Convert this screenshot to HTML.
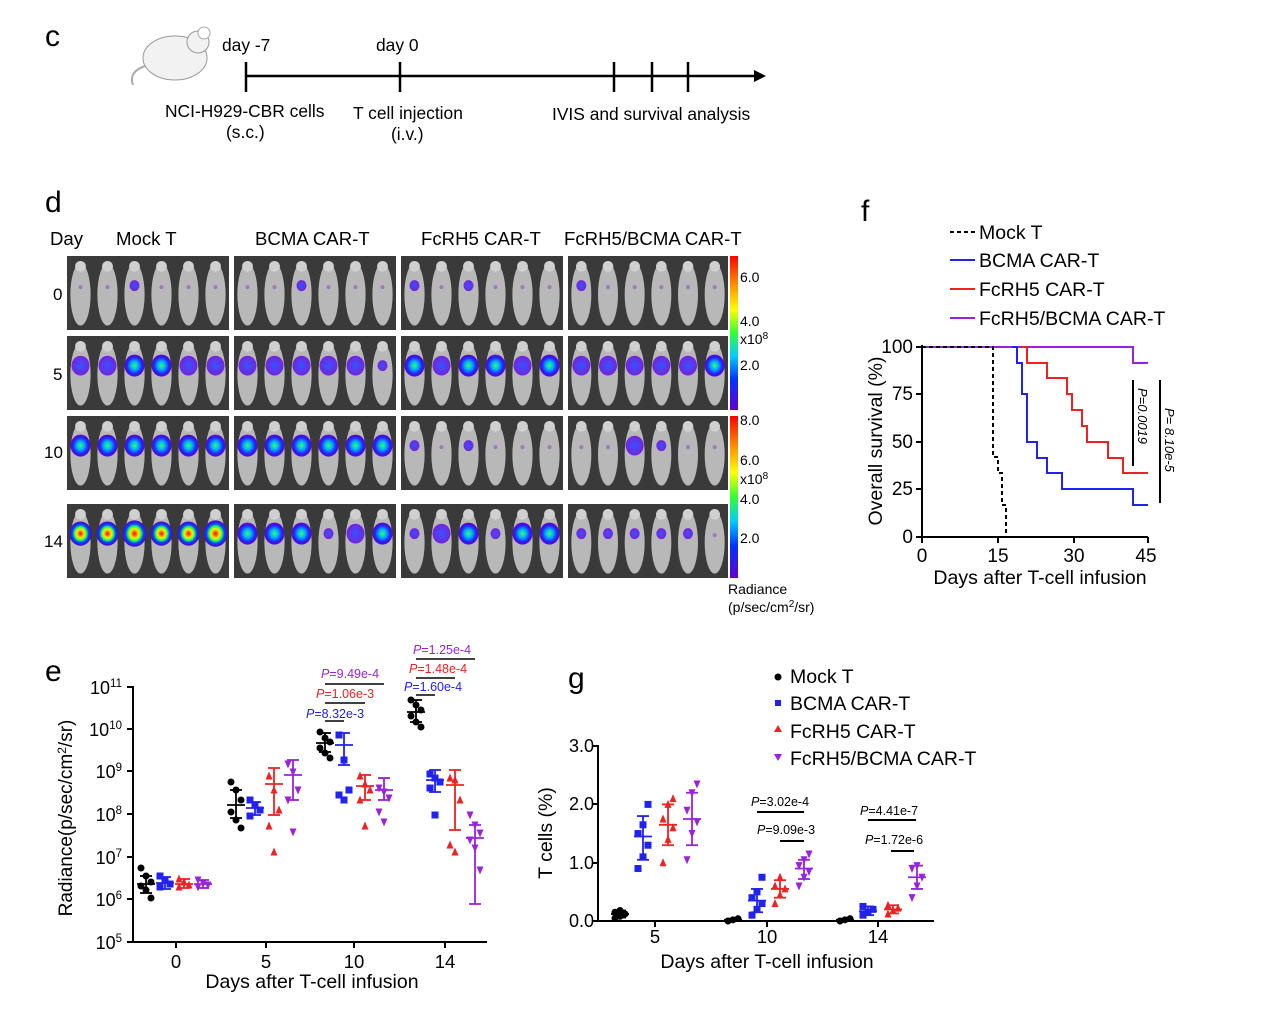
<!DOCTYPE html>
<html><head><meta charset="utf-8"><style>
html,body{margin:0;padding:0;background:#fff}
svg{display:block;font-family:"Liberation Sans",Arial,sans-serif}
</style></head><body>
<svg id="s" width="1268" height="1017" viewBox="0 0 1268 1017" xmlns="http://www.w3.org/2000/svg">
<defs>
<linearGradient id="cb" x1="0" y1="0" x2="0" y2="1">
<stop offset="0" stop-color="#ff0000"/><stop offset="0.2" stop-color="#ff9900"/><stop offset="0.35" stop-color="#ffff00"/><stop offset="0.5" stop-color="#33ff33"/><stop offset="0.65" stop-color="#00ccff"/><stop offset="0.8" stop-color="#0033ff"/><stop offset="1" stop-color="#6600cc"/></linearGradient>
<radialGradient id="hot"><stop offset="0" stop-color="#ff0000"/><stop offset="0.35" stop-color="#ffee00"/><stop offset="0.55" stop-color="#22ff55"/><stop offset="0.75" stop-color="#0044ff"/><stop offset="1" stop-color="#5500cc"/></radialGradient>
<radialGradient id="mid"><stop offset="0" stop-color="#33ff66"/><stop offset="0.4" stop-color="#00aaff"/><stop offset="0.75" stop-color="#2222ff"/><stop offset="1" stop-color="#6600cc"/></radialGradient>
<radialGradient id="low"><stop offset="0" stop-color="#3355ff"/><stop offset="1" stop-color="#7722dd"/></radialGradient>
</defs>
<g font-size="16" fill="#000">
<!-- c -->
<text x="45" y="46" font-size="30">c</text>
<ellipse cx="175" cy="58" rx="32" ry="22" fill="#f2f2f2" stroke="#999"/>
<circle cx="198" cy="42" r="11" fill="#f2f2f2" stroke="#999"/>
<circle cx="204" cy="33" r="6" fill="#fff" stroke="#aaa"/>
<path d="M145 66 Q128 72 133 85" fill="none" stroke="#aaa" stroke-width="2"/>
<line x1="245" y1="76" x2="758" y2="76" stroke="#000" stroke-width="2.5"/>
<polygon points="766,76 754,70 754,82" fill="#000"/>
<g stroke="#000" stroke-width="2.5"><line x1="246" y1="62" x2="246" y2="92"/><line x1="400" y1="62" x2="400" y2="92"/><line x1="614" y1="62" x2="614" y2="92"/><line x1="652" y1="62" x2="652" y2="92"/><line x1="688" y1="62" x2="688" y2="92"/></g>
<g font-size="17.4"><text x="222" y="51">day -7</text><text x="376" y="51">day 0</text>
<text x="165" y="117">NCI-H929-CBR cells</text><text x="226" y="138">(s.c.)</text>
<text x="353" y="119">T cell injection</text><text x="391" y="140">(i.v.)</text>
<text x="552" y="120">IVIS and survival analysis</text></g>
<!-- d -->
<text x="45" y="212" font-size="30">d</text>
<g font-size="18.6"><text x="50" y="245">Day</text><text x="116" y="245">Mock T</text>
<text x="255" y="245">BCMA CAR-T</text><text x="421" y="245">FcRH5 CAR-T</text>
<text x="564" y="245">FcRH5/BCMA CAR-T</text></g>
<text x="53" y="300" font-size="17">0</text><text x="53" y="380" font-size="17">5</text>
<text x="44" y="458" font-size="17">10</text><text x="44" y="547" font-size="17">14</text>
<g id="img"></g>
<rect x="730" y="256" width="8" height="154" fill="url(#cb)"/>
<rect x="730" y="416" width="8" height="162" fill="url(#cb)"/>
<g font-size="14"><text x="740" y="282">6.0</text><text x="740" y="326">4.0</text><text x="740" y="344">x10<tspan font-size="10" dy="-5">8</tspan></text><text x="740" y="370">2.0</text>
<text x="740" y="425">8.0</text><text x="740" y="465">6.0</text><text x="740" y="484">x10<tspan font-size="10" dy="-5">8</tspan></text><text x="740" y="504">4.0</text><text x="740" y="543">2.0</text>
<text x="728" y="594">Radiance</text><text x="728" y="612">(p/sec/cm<tspan font-size="10" dy="-5">2</tspan><tspan dy="5">/sr)</tspan></text></g>
<!-- f -->
<text x="861" y="221" font-size="30">f</text>
<g stroke-width="2"><line x1="950" y1="232" x2="975" y2="232" stroke="#000" stroke-dasharray="4,3"/><line x1="950" y1="260" x2="975" y2="260" stroke="#2222ee"/><line x1="950" y1="289" x2="975" y2="289" stroke="#ee2222"/><line x1="950" y1="318" x2="975" y2="318" stroke="#9922dd"/></g>
<g font-size="19.5"><text x="979" y="239">Mock T</text><text x="979" y="267">BCMA CAR-T</text><text x="979" y="296">FcRH5 CAR-T</text><text x="979" y="325">FcRH5/BCMA CAR-T</text></g>
<g stroke="#000" stroke-width="2"><line x1="922" y1="345" x2="922" y2="538"/><line x1="921" y1="537" x2="1148" y2="537"/>
<line x1="916" y1="347" x2="922" y2="347"/><line x1="916" y1="394" x2="922" y2="394"/><line x1="916" y1="442" x2="922" y2="442"/><line x1="916" y1="489" x2="922" y2="489"/><line x1="916" y1="537" x2="922" y2="537"/>
<line x1="922" y1="537" x2="922" y2="543"/><line x1="998" y1="537" x2="998" y2="543"/><line x1="1074" y1="537" x2="1074" y2="543"/><line x1="1148" y1="537" x2="1148" y2="543"/></g>
<g font-size="19" text-anchor="end"><text x="913" y="353">100</text><text x="913" y="400">75</text><text x="913" y="448">50</text><text x="913" y="495">25</text><text x="913" y="543">0</text></g>
<g font-size="19" text-anchor="middle"><text x="922" y="562">0</text><text x="998" y="562">15</text><text x="1074" y="562">30</text><text x="1146" y="562">45</text>
<text x="1040" y="584" font-size="19.5">Days after T-cell infusion</text>
<text transform="translate(882,441) rotate(-90)" font-size="19.5">Overall  survival (%)</text></g>
<g fill="none" stroke-width="2">
<polyline stroke="#9922dd" points="922,347 1133,347 1133,363 1148,363"/>
<polyline stroke="#ee2222" points="1022,347 1027,347 1027,363 1047,363 1047,378 1067,378 1067,394 1072,394 1072,410 1082,410 1082,426 1087,426 1087,442 1108,442 1108,458 1123,458 1123,473 1148,473"/>
<polyline stroke="#2222ee" points="1012,347 1017,347 1017,363 1022,363 1022,394 1027,394 1027,442 1037,442 1037,458 1047,458 1047,473 1062,473 1062,489 1133,489 1133,505 1148,505"/>
<polyline stroke="#000" stroke-dasharray="4,3" points="922,347 993,347 993,457 998,457 998,473 1002,473 1002,505 1006,505 1006,537"/>
<line x1="1133" y1="380" x2="1133" y2="466" stroke="#000"/><line x1="1160" y1="380" x2="1160" y2="503" stroke="#000"/></g>
<g font-size="13" font-style="italic"><text transform="translate(1138,388) rotate(90)">P=0.0019</text><text transform="translate(1165,408) rotate(90)">P= 8.10e-5</text></g>
<!-- e -->
<text x="45" y="681" font-size="30">e</text>
<g stroke="#000" stroke-width="2"><line x1="133" y1="686" x2="133" y2="943"/><line x1="132" y1="942" x2="487" y2="942"/></g>
<g id="eax"></g>
<g font-size="18.5" text-anchor="middle"><text x="176" y="968">0</text><text x="266" y="968">5</text><text x="354" y="968">10</text><text x="445" y="968">14</text>
<text x="312" y="988" font-size="19.5">Days after T-cell infusion</text>
<text transform="translate(72,818) rotate(-90)" font-size="19">Radiance(p/sec/cm<tspan font-size="12" dy="-6">2</tspan><tspan dy="6">/sr)</tspan></text></g>
<g id="epts"></g>
<g font-size="12.5" font-style="normal">
<text x="321" y="678" fill="#9922dd"><tspan font-style="italic">P</tspan>=9.49e-4</text>
<text x="316" y="698" fill="#ee2222"><tspan font-style="italic">P</tspan>=1.06e-3</text>
<text x="306" y="718" fill="#2222ee"><tspan font-style="italic">P</tspan>=8.32e-3</text>
<text x="413" y="654" fill="#9922dd"><tspan font-style="italic">P</tspan>=1.25e-4</text>
<text x="409" y="673" fill="#ee2222"><tspan font-style="italic">P</tspan>=1.48e-4</text>
<text x="404" y="691" fill="#2222ee"><tspan font-style="italic">P</tspan>=1.60e-4</text></g>
<g stroke="#000" stroke-width="1.5"><line x1="325" y1="684" x2="384" y2="684"/><line x1="325" y1="703" x2="365" y2="703"/><line x1="325" y1="721" x2="344" y2="721"/>
<line x1="416" y1="659" x2="475" y2="659"/><line x1="416" y1="678" x2="455" y2="678"/><line x1="416" y1="695" x2="435" y2="695"/></g>
<!-- g -->
<text x="568" y="688" font-size="30">g</text>
<g stroke="#000" stroke-width="2"><line x1="598" y1="745" x2="598" y2="922"/><line x1="597" y1="921" x2="934" y2="921"/>
<line x1="592" y1="746" x2="598" y2="746"/><line x1="592" y1="804" x2="598" y2="804"/><line x1="592" y1="863" x2="598" y2="863"/><line x1="592" y1="921" x2="598" y2="921"/>
<line x1="655" y1="921" x2="655" y2="927"/><line x1="767" y1="921" x2="767" y2="927"/><line x1="878" y1="921" x2="878" y2="927"/></g>
<g font-size="18" text-anchor="end"><text x="594" y="752">3.0</text><text x="594" y="810">2.0</text><text x="594" y="869">1.0</text><text x="594" y="927">0.0</text></g>
<g font-size="18.5" text-anchor="middle"><text x="655" y="943">5</text><text x="767" y="943">10</text><text x="878" y="943">14</text>
<text x="767" y="968" font-size="19.5">Days after T-cell infusion</text>
<text transform="translate(552,833) rotate(-90)" font-size="19.5">T cells  (%)</text></g>
<circle cx="778" cy="677" r="3.5" fill="#000"/><rect x="775" y="700" width="6" height="6" fill="#2222ee"/>
<polygon points="778,725 782,732 774,732" fill="#ee2222"/><polygon points="774,754 782,754 778,761" fill="#9922dd"/>
<g font-size="19.5"><text x="790" y="683">Mock T</text><text x="790" y="710">BCMA CAR-T</text><text x="790" y="738">FcRH5 CAR-T</text><text x="790" y="765">FcRH5/BCMA CAR-T</text></g>
<g font-size="12.5"><text x="751" y="806"><tspan font-style="italic">P</tspan>=3.02e-4</text><text x="757" y="834"><tspan font-style="italic">P</tspan>=9.09e-3</text>
<text x="860" y="815"><tspan font-style="italic">P</tspan>=4.41e-7</text><text x="865" y="844"><tspan font-style="italic">P</tspan>=1.72e-6</text></g>
<g stroke="#000" stroke-width="2"><line x1="757" y1="812" x2="804" y2="812"/><line x1="780" y1="841" x2="804" y2="841"/><line x1="868" y1="820" x2="916" y2="820"/><line x1="891" y1="851" x2="914" y2="851"/></g>
<g id="gpts"></g>
</g>
</svg>
<script>
var NS="http://www.w3.org/2000/svg";
function el(p,t,a){var e=document.createElementNS(NS,t);for(var k in a)e.setAttribute(k,a[k]);p.appendChild(e);return e;}
var img=document.getElementById('img');
var rows=[[256,74],[336,74],[416,74],[504,74]],cols=[[67,162],[234,162],[401,162],[568,160]];
var sig=[[[0,0,1,0,0,0],[0,0,1,0,0,0],[1,0,1,0,0,0],[1,0,0,0,0,0]],
[[2,2,3,3,2,2],[2,2,2,2,2,1],[3,2,3,3,2,3],[2,2,2,2,2,3]],
[[3,3,3,3,3,3],[3,3,3,3,3,3],[1,0,1,0,0,0],[0,0,2,1,0,0]],
[[4,4,5,4,4,5],[3,3,3,1,2,3],[1,2,3,1,3,3],[1,1,1,1,1,0]]];
for(var r=0;r<4;r++)for(var c=0;c<4;c++){
 var x0=cols[c][0],y0=rows[r][0],w=cols[c][1],h=rows[r][1];
 el(img,'rect',{x:x0,y:y0,width:w,height:h,fill:'#3a3a3a'});
 for(var m=0;m<6;m++){var cx=x0+w*(m+0.5)/6;
  el(img,'ellipse',{cx:cx,cy:y0+h*0.52,rx:w/16,ry:h*0.42,fill:'#b8b8b8'});
  el(img,'circle',{cx:cx,cy:y0+h*0.14,r:w/30,fill:'#d0d0d0'});
  var s=sig[r][c][m];
  if(s==0){el(img,'circle',{cx:cx,cy:y0+h*0.42,r:2,fill:'#8833cc','fill-opacity':0.5});}
  else{var rr=[0,5,9,10,11,12][s];var g=s>=4?'url(#hot)':(s==3?'url(#mid)':'url(#low)');
   if(r==1||s==1)g=s>=3?'url(#mid)':'url(#low)';
   el(img,'ellipse',{cx:cx,cy:y0+h*0.4,rx:rr,ry:rr*1.1,fill:g});}
 }
}
var eax=document.getElementById('eax');
var ys=[687,729,771,814,857,899,942];
for(var i=0;i<7;i++){el(eax,'line',{x1:127,y1:ys[i],x2:133,y2:ys[i],stroke:'#000','stroke-width':2});
 var t=el(eax,'text',{x:122,y:ys[i]+7,'text-anchor':'end','font-size':18});t.textContent='10';
 var sp=el(t,'tspan',{dy:-7,'font-size':11.5});sp.textContent=String(11-i);}
[176,266,354,445].forEach(function(x){el(eax,'line',{x1:x,y1:942,x2:x,y2:948,stroke:'#000','stroke-width':2});});
var cols4=['#000','#2222ee','#ee2222','#9922dd'];
function mark(p,k,x,y,s){s=s||3.5;
 if(k==0)el(p,'circle',{cx:x,cy:y,r:s,fill:cols4[0]});
 else if(k==1)el(p,'rect',{x:x-s,y:y-s,width:2*s,height:2*s,fill:cols4[1]});
 else if(k==2)el(p,'polygon',{points:(x)+','+(y-s-1)+' '+(x+s)+','+(y+s)+' '+(x-s)+','+(y+s),fill:cols4[2]});
 else el(p,'polygon',{points:(x-s)+','+(y-s)+' '+(x+s)+','+(y-s)+' '+(x)+','+(y+s+1),fill:cols4[3]});}
function group(p,x,k,mean,lo,hi,pts){var c=cols4[k];
 el(p,'line',{x1:x,y1:lo,x2:x,y2:hi,stroke:c,'stroke-width':1.8});
 el(p,'line',{x1:x-6,y1:lo,x2:x+6,y2:lo,stroke:c,'stroke-width':1.8});
 el(p,'line',{x1:x-6,y1:hi,x2:x+6,y2:hi,stroke:c,'stroke-width':1.8});
 el(p,'line',{x1:x-9,y1:mean,x2:x+9,y2:mean,stroke:c,'stroke-width':1.8});
 pts.forEach(function(q,i){mark(p,k,x+((i%3)-1)*5,q);});}
var ep=document.getElementById('epts');
var E=[[146,0,884,876,893,[868,876,882,886,890,898]],[165,1,883,877,889,[876,880,884,887]],[184,2,884,879,888,[879,882,885,887]],[203,3,884,880,888,[880,883,885,887]],
[236,0,805,790,818,[782,790,800,812,820,828]],[255,1,808,802,815,[800,805,810,816]],[274,2,784,768,815,[776,790,810,826,852]],[293,3,775,760,800,[764,772,790,800,832]],
[325,0,743,733,752,[732,738,742,748,753,758]],[344,1,745,733,765,[735,760,790,795,800]],[365,2,786,775,800,[776,784,790,800,826]],[384,3,790,778,800,[788,792,798,812,822]],
[416,0,712,700,722,[700,705,710,716,722,727]],[435,1,780,770,792,[774,778,782,788,815]],[455,2,785,770,830,[778,780,800,845,852]],[475,3,838,825,904,[815,825,833,840,848,870]]];
E.forEach(function(d){group(ep,d[0],d[1],d[2],d[3],d[4],d[5]);});
var gp=document.getElementById('gpts');
function gy(v){return 921-v*58.3;}
var G=[[620,0,.12,.06,.18,[.05,.08,.12,.15,.18]],[643,1,1.45,1.05,1.8,[0.9,1.1,1.3,1.5,1.65,2.0]],[668,2,1.65,1.3,2.0,[1.0,1.4,1.6,1.75,2.0,2.1]],[692,3,1.75,1.3,2.2,[1.05,1.5,1.7,1.9,2.2,2.35]],
[733,0,.02,0,.04,[0,.02,.04]],[757,1,.35,.15,.55,[.1,.2,.3,.4,.5,.75]],[780,2,.55,.4,.7,[.3,.45,.55,.6,.75]],[804,3,.9,.72,1.05,[.6,.75,.85,.95,1.05,1.15]],
[845,0,.02,0,.04,[0,.02,.04]],[868,1,.17,.1,.25,[.1,.15,.2,.25]],[893,2,.2,.13,.27,[.12,.18,.22,.27]],[917,3,.75,.55,.95,[.4,.6,.75,.9,.95]]];
G.forEach(function(d){group(gp,d[0],d[1],gy(d[2]),gy(d[3]),gy(d[4]),d[5].map(gy));});
</script>
</body></html>
